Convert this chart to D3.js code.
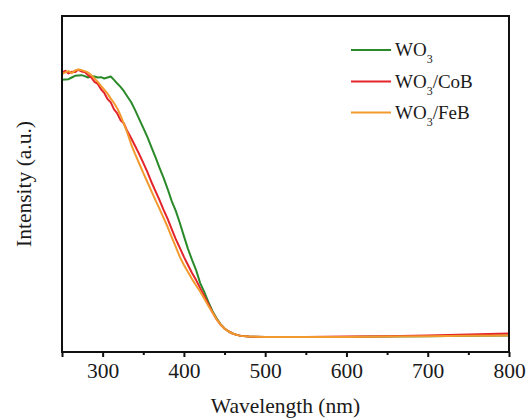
<!DOCTYPE html>
<html>
<head>
<meta charset="utf-8">
<script src="https://cdn.jsdelivr.net/npm/d3@7"></script>
<style>
  body { margin: 0; background: #fff; }
  svg { display: block; }
</style>
</head>
<body>
<svg id="chart" width="531" height="419"></svg>
<script>
// UV-vis spectra: wavelength (nm) and intensity (a.u.)
const wavelength = [250,254,258,262,266,270,274,278,282,286,290,294,298,302,306,310,314,318,322,326,330,
  335,340,345,350,355,360,365,370,375,380,385,390,395,400,405,410,415,420,425,430,435,440,445,450,455,460,465,470,
  480,500,550,600,650,700,750,800];

const wo3 = [81.0,81.1,81.2,81.7,82.2,82.3,82.4,82.1,81.7,82.1,82.0,81.7,81.8,81.4,81.7,82.0,81.0,79.9,78.9,77.7,76.2,
  74.4,72.0,69.3,66.7,64.0,61.0,58.0,54.8,51.8,48.5,44.9,42.0,38.4,34.5,30.7,27.4,24.4,20.5,17.9,14.9,12.2,10.1,8.3,7.0,6.1,5.5,5.1,4.8,
  4.6,4.5,4.5,4.5,4.6,4.7,4.8,4.9];

const wo3CoB = [83.2,83.7,82.9,83.4,83.3,84.0,83.5,83.3,82.4,81.7,80.4,79.8,78.2,77.1,75.3,74.3,72.2,71.0,69.0,68.1,65.9,
  63.7,61.3,58.9,56.3,53.6,50.6,47.9,45.2,42.3,39.6,36.6,33.6,31.0,28.3,25.9,23.5,21.4,19.0,16.7,14.3,11.9,9.8,8.2,7.0,6.1,5.5,5.1,4.8,
  4.6,4.5,4.5,4.6,4.7,4.9,5.2,5.5];

const wo3FeB = [82.7,83.2,83.6,83.0,83.8,84.1,83.9,83.6,83.2,82.4,81.4,80.4,79.2,78.1,76.9,75.4,74.1,72.5,70.4,68.0,65.5,
  61.9,58.9,56.1,53.3,50.6,47.9,45.2,42.6,39.9,37.2,34.2,31.3,28.3,25.9,23.8,21.7,19.8,18.0,15.9,13.8,11.8,9.8,8.2,7.0,6.1,5.5,5.1,4.8,
  4.6,4.5,4.5,4.5,4.6,4.7,4.8,4.9];

const seriesNames = ["WO3", "WO3/CoB", "WO3/FeB"];
const seriesColors = ["#2a8a2a", "#e3242b", "#f39a2e"];
const seriesValues = [wo3, wo3CoB, wo3FeB];

const majorTicks = [250, 300, 400, 500, 600, 700, 800];
const minorTicks = [350, 450, 550, 650, 750];

const serif = "'Liberation Serif', Tinos, 'Times New Roman', serif";
const ink = "#1a1a1a";

const svg = d3.select("#chart");
const plotLeft = 62, plotRight = 509, plotTop = 16, plotBottom = 352;

const x = d3.scaleLinear().domain([250, 800]).range([plotLeft, plotRight]);
const y = d3.scaleLinear().domain([0, 100]).range([plotBottom, plotTop]);

// spectra
const line = d3.line().x(d => x(d[0])).y(d => y(d[1]));
seriesValues.forEach((vals, i) => {
  svg.append("path")
    .datum(wavelength.map((w, j) => [w, vals[j]]))
    .attr("fill", "none")
    .attr("stroke", seriesColors[i])
    .attr("stroke-width", 2)
    .attr("stroke-linejoin", "round")
    .attr("d", line);
});

// frame
svg.append("rect")
  .attr("x", plotLeft).attr("y", plotTop)
  .attr("width", plotRight - plotLeft).attr("height", plotBottom - plotTop)
  .attr("fill", "none").attr("stroke", "#111").attr("stroke-width", 2);

// bottom axis: major ticks with labels, minor ticks without
const axisMajor = d3.axisBottom(x)
  .tickValues(majorTicks)
  .tickSize(5)
  .tickPadding(6)
  .tickFormat(d => d === 250 ? "" : d3.format("d")(d));
const gMajor = svg.append("g").attr("transform", `translate(0,${plotBottom})`).call(axisMajor)
  .attr("font-family", serif).attr("font-size", 21.5);
gMajor.select(".domain").remove();
gMajor.selectAll(".tick line").attr("stroke", "#111").attr("stroke-width", 2);
gMajor.selectAll(".tick text").attr("fill", ink);

const axisMinor = d3.axisBottom(x).tickValues(minorTicks).tickSize(3).tickFormat("");
const gMinor = svg.append("g").attr("transform", `translate(0,${plotBottom})`).call(axisMinor);
gMinor.select(".domain").remove();
gMinor.selectAll(".tick line").attr("stroke", "#111").attr("stroke-width", 2);

// axis titles
svg.append("text")
  .attr("x", (plotLeft + plotRight) / 2).attr("y", 413)
  .attr("text-anchor", "middle")
  .attr("font-family", serif).attr("font-size", 21.5).attr("fill", ink)
  .text("Wavelength (nm)");

svg.append("text")
  .attr("transform", `translate(31,${(plotTop + plotBottom) / 2}) rotate(-90)`)
  .attr("text-anchor", "middle")
  .attr("font-family", serif).attr("font-size", 21.5).attr("fill", ink)
  .text("Intensity (a.u.)");

// legend
const legendY = [50, 81.5, 112.5];
seriesNames.forEach((name, i) => {
  const g = svg.append("g").attr("transform", `translate(351,${legendY[i]})`);
  g.append("line").attr("x1", 0).attr("x2", 40).attr("y1", 0).attr("y2", 0)
    .attr("stroke", seriesColors[i]).attr("stroke-width", 2);
  const t = g.append("text").attr("x", 44).attr("y", 6)
    .attr("font-family", serif).attr("font-size", 19).attr("fill", ink);
  t.append("tspan").text("WO");
  t.append("tspan").attr("dy", 7).attr("font-size", 12).text("3");
  const rest = name.slice(3);
  if (rest) t.append("tspan").attr("dy", -7).text(rest);
});
</script>
</body>
</html>
